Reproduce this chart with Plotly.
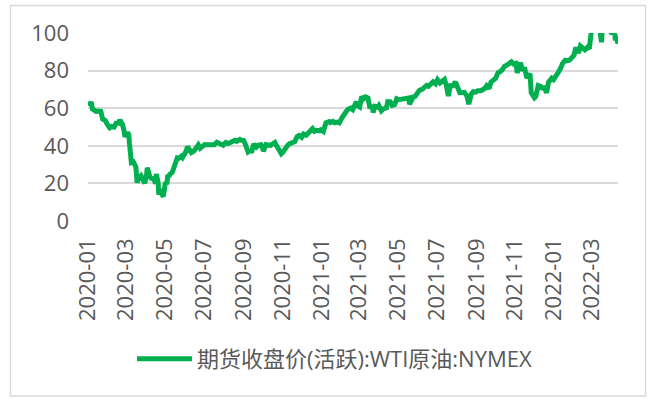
import plotly.graph_objects as go

dates = [
    "2020-01-02","2020-01-06","2020-01-08","2020-01-10","2020-01-14","2020-01-17","2020-01-21","2020-01-24","2020-01-28","2020-01-31",
    "2020-02-04","2020-02-07","2020-02-11","2020-02-14","2020-02-18","2020-02-20","2020-02-24","2020-02-26","2020-02-28",
    "2020-03-03","2020-03-05","2020-03-06","2020-03-09","2020-03-12","2020-03-16","2020-03-18","2020-03-20","2020-03-24","2020-03-27","2020-03-30",
    "2020-04-02","2020-04-03","2020-04-07","2020-04-09","2020-04-13","2020-04-14","2020-04-16","2020-04-17","2020-04-20","2020-04-21","2020-04-23","2020-04-24","2020-04-27","2020-04-28","2020-04-29","2020-04-30",
    "2020-05-01","2020-05-04","2020-05-05","2020-05-07","2020-05-08","2020-05-12","2020-05-14","2020-05-15","2020-05-18","2020-05-20","2020-05-22","2020-05-26","2020-05-28",
    "2020-06-01","2020-06-03","2020-06-05","2020-06-08","2020-06-11","2020-06-15","2020-06-17","2020-06-19","2020-06-22","2020-06-25","2020-06-29",
    "2020-07-02","2020-07-07","2020-07-10","2020-07-14","2020-07-17","2020-07-21","2020-07-24","2020-07-28","2020-07-31",
    "2020-08-04","2020-08-07","2020-08-11","2020-08-14","2020-08-18","2020-08-21","2020-08-26","2020-08-28",
    "2020-09-01","2020-09-03","2020-09-08","2020-09-10","2020-09-14","2020-09-17","2020-09-21","2020-09-24","2020-09-28",
    "2020-10-01","2020-10-02","2020-10-06","2020-10-09","2020-10-13","2020-10-16","2020-10-20","2020-10-23","2020-10-28","2020-10-30",
    "2020-11-02","2020-11-05","2020-11-09","2020-11-12","2020-11-16","2020-11-20","2020-11-24","2020-11-27",
    "2020-12-01","2020-12-04","2020-12-08","2020-12-11","2020-12-15","2020-12-18","2020-12-21","2020-12-24","2020-12-29","2020-12-31",
    "2021-01-04","2021-01-06","2021-01-08","2021-01-13","2021-01-15","2021-01-19","2021-01-22","2021-01-26","2021-01-29",
    "2021-02-02","2021-02-05","2021-02-09","2021-02-12","2021-02-16","2021-02-19","2021-02-23","2021-02-25","2021-02-26",
    "2021-03-02","2021-03-05","2021-03-08","2021-03-11","2021-03-15","2021-03-18","2021-03-22","2021-03-23","2021-03-26","2021-03-30",
    "2021-04-01","2021-04-05","2021-04-08","2021-04-13","2021-04-15","2021-04-19","2021-04-22","2021-04-26","2021-04-29",
    "2021-05-03","2021-05-06","2021-05-11","2021-05-14","2021-05-18","2021-05-19","2021-05-21","2021-05-25","2021-05-28",
    "2021-06-01","2021-06-04","2021-06-08","2021-06-11","2021-06-15","2021-06-18","2021-06-22","2021-06-25","2021-06-29",
    "2021-07-02","2021-07-06","2021-07-09","2021-07-13","2021-07-16","2021-07-19","2021-07-22","2021-07-26","2021-07-30",
    "2021-08-03","2021-08-06","2021-08-10","2021-08-13","2021-08-17","2021-08-20","2021-08-24","2021-08-27","2021-08-31",
    "2021-09-03","2021-09-08","2021-09-10","2021-09-14","2021-09-17","2021-09-21","2021-09-24","2021-09-28",
    "2021-10-01","2021-10-05","2021-10-08","2021-10-12","2021-10-15","2021-10-19","2021-10-22","2021-10-26","2021-10-29",
    "2021-11-02","2021-11-04","2021-11-09","2021-11-12","2021-11-16","2021-11-19","2021-11-23","2021-11-24","2021-11-26","2021-11-30",
    "2021-12-01","2021-12-03","2021-12-07","2021-12-10","2021-12-14","2021-12-17","2021-12-20","2021-12-23","2021-12-28","2021-12-31",
    "2022-01-04","2022-01-07","2022-01-11","2022-01-14","2022-01-18","2022-01-21","2022-01-25","2022-01-28",
    "2022-02-01","2022-02-04","2022-02-08","2022-02-11","2022-02-15","2022-02-18","2022-02-22","2022-02-25",
    "2022-03-01","2022-03-04","2022-03-08","2022-03-11","2022-03-15","2022-03-16","2022-03-18","2022-03-23","2022-03-25","2022-03-29","2022-03-31",
    "2022-04-01","2022-04-05","2022-04-07","2022-04-08","2022-04-11",
]

prices = [
    61.18,63.27,59.61,59.04,58.23,58.54,58.34,54.19,53.48,51.56,
    49.61,50.32,49.94,52.05,52.05,53.78,51.43,48.73,44.76,
    47.18,45.90,41.28,31.13,31.50,28.70,20.37,22.43,24.01,21.51,20.09,
    25.32,28.34,23.63,22.76,22.41,20.11,19.87,25.03,20.43,14.00,16.50,16.94,13.50,13.20,15.06,18.84,
    19.78,20.39,24.56,23.55,24.74,25.78,27.56,29.43,31.82,33.49,33.25,34.35,33.71,
    35.44,37.29,39.55,38.19,36.34,37.12,37.96,39.75,40.46,38.72,39.70,
    40.65,40.62,40.55,40.29,40.59,41.92,41.29,41.04,40.27,
    41.70,41.22,41.61,42.01,42.89,42.34,43.39,42.97,
    42.76,41.37,36.76,37.30,37.26,40.97,39.31,40.31,40.60,
    38.72,37.05,40.67,40.60,40.20,40.88,41.70,39.85,37.39,35.79,
    36.81,38.79,40.29,41.12,41.34,42.15,44.91,45.53,
    44.55,46.26,45.60,46.57,47.62,49.10,47.74,48.23,48.00,48.52,
    47.62,50.63,52.24,52.91,52.36,52.98,52.27,52.61,52.20,
    54.76,56.85,58.36,59.47,60.05,59.24,61.67,63.53,61.50,
    60.64,66.09,65.05,66.02,65.39,60.00,61.55,57.76,60.97,60.55,
    61.45,58.65,59.60,60.18,63.46,63.38,61.43,61.91,65.01,
    64.49,64.71,65.28,65.37,65.49,62.05,63.58,66.07,66.32,
    67.72,69.62,70.05,70.91,72.12,71.64,73.06,74.05,72.98,
    75.16,73.37,74.56,75.25,71.81,66.42,71.91,71.91,73.95,
    70.56,68.28,68.29,68.44,66.59,62.14,67.54,68.74,68.50,
    69.29,69.30,69.72,70.46,71.97,70.49,73.98,75.29,
    75.88,78.93,79.35,80.64,82.28,82.96,83.76,84.65,83.57,
    83.91,78.81,84.15,80.79,80.76,76.10,78.50,78.39,68.15,66.18,
    65.57,66.26,72.05,71.67,70.73,70.86,68.23,73.79,75.98,75.21,
    76.99,78.90,81.22,83.82,85.43,85.14,85.60,86.82,
    88.20,92.31,89.36,93.10,92.07,91.07,92.35,91.59,
    103.41,115.68,123.70,109.33,96.44,95.04,104.70,114.93,113.90,104.24,100.28,
    99.27,101.96,96.03,98.26,94.29,
]

series_name = "期货收盘价(活跃):WTI原油:NYMEX"
y_ticks = [0, 20, 40, 60, 80, 100]

GREEN = "#00b050"
GRID = "#d9d9d9"
TEXT = "#595959"
FONT = "Open Sans, Noto Sans CJK SC, sans-serif"

fig = go.Figure()
fig.add_trace(go.Scatter(
    x=dates, y=prices, mode="lines", name=series_name,
    line=dict(color=GREEN, width=5, shape="linear"),
))

L, R, T, B = 88, 36, 33, 180
W, H = 654, 401
pw = W - L - R
ph = H - T - B

def px_x(p):
    return (p - L) / pw

def px_y(p):
    return (H - B - p) / ph

fig.update_layout(
    width=W, height=H,
    margin=dict(l=L, r=R, t=T, b=B, autoexpand=False),
    paper_bgcolor="white", plot_bgcolor="white",
    font=dict(family=FONT, color=TEXT, size=22),
    showlegend=True,
    legend=dict(
        orientation="h", x=px_x(132), y=px_y(359), xanchor="left", yanchor="middle",
        font=dict(family=FONT, size=22, color=TEXT), itemwidth=55,
        bgcolor="rgba(0,0,0,0)",
    ),
    xaxis=dict(
        type="date", range=["2020-01-01", "2022-04-11"],
        tick0="2020-01-01", dtick="M2", tickformat="%Y-%m", tickangle=-90,
        showgrid=False, zeroline=False, showline=False, ticks="",
        tickfont=dict(family=FONT, size=22, color=TEXT),
        automargin=False, ticklabelstandoff=12,
    ),
    yaxis=dict(
        range=[0, 100], tickvals=y_ticks, showgrid=True, gridcolor=GRID, gridwidth=1.5,
        zeroline=False, showline=False, ticks="",
        tickfont=dict(family=FONT, size=22, color=TEXT),
        automargin=False, ticklabelstandoff=18,
    ),
    shapes=[dict(
        type="rect", xref="paper", yref="paper",
        x0=px_x(10.5), x1=px_x(645.5), y0=px_y(396), y1=px_y(5.5),
        line=dict(color=GRID, width=1.3), fillcolor="rgba(0,0,0,0)", layer="below",
    )],
)

fig.write_html(
    "out.html",
    config={"displayModeBar": False},
    post_script="document.body.style.margin='0px';",
)
